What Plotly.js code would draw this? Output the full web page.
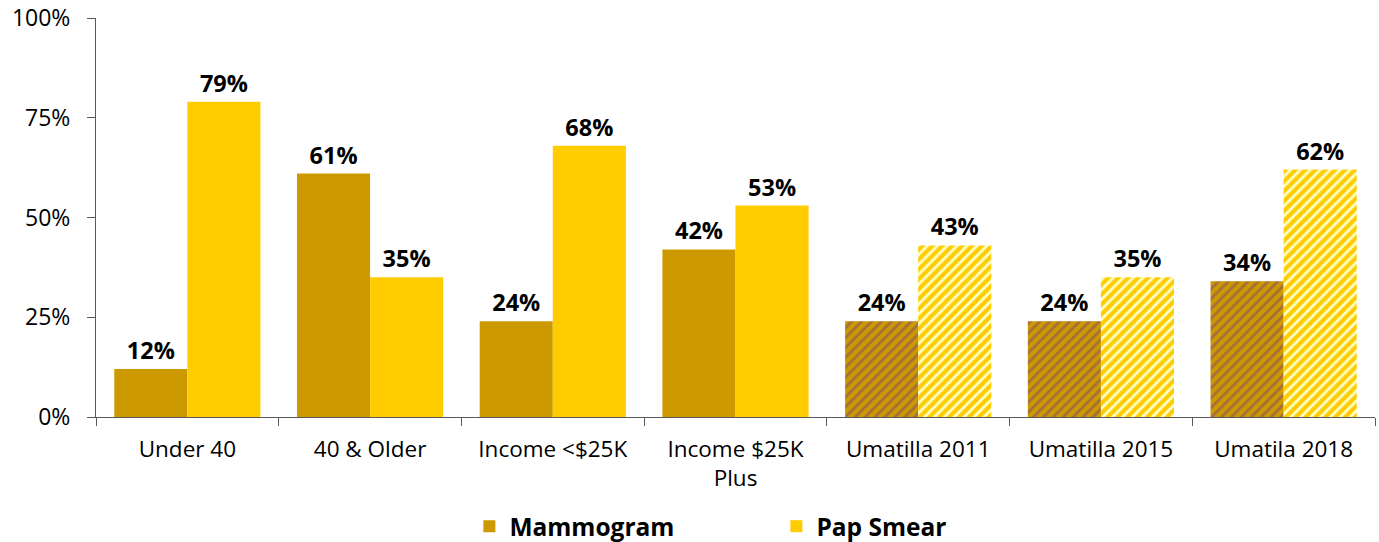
<!DOCTYPE html>
<html>
<head>
<meta charset="utf-8">
<script src="https://cdn.plot.ly/plotly-3.0.1.min.js"></script>
<style>html,body{margin:0;padding:0;background:#fff;}#chart{width:1379px;height:542px;}</style>
</head>
<body>
<div id="chart"></div>
<script>
const categories = ["Under 40", "40 & Older", "Income <$25K", "Income $25K<br>Plus", "Umatilla 2011", "Umatilla 2015", "Umatila 2018"];
const mammogram = [0.12, 0.61, 0.24, 0.42, 0.24, 0.24, 0.34];
const papSmear = [0.79, 0.35, 0.68, 0.53, 0.43, 0.35, 0.62];
const hatched = [false, false, false, false, true, true, true];

const FONT = "Open Sans, Noto Sans, DejaVu Sans, sans-serif";

function makeTrace(name, values, color, stripe) {
  return {
    type: "bar",
    name: name,
    x: categories,
    y: values,
    text: values.map(v => "<b>" + Math.round(v * 100) + "%</b>"),
    textposition: "outside",
    textfont: {family: FONT, size: 23.5, color: "#000"},
    cliponaxis: false,
    marker: {
      color: color,
      line: {width: 0},
      pattern: {
        shape: hatched.map(h => h ? "/" : ""),
        bgcolor: color,
        fgcolor: stripe,
        fgopacity: 1,
        size: 7,
        solidity: 0.4,
        fillmode: "overlay"
      }
    },
    hoverinfo: "none"
  };
}

const data = [
  makeTrace("<b>Mammogram</b>", mammogram, "#CC9900", "#A66E3A"),
  makeTrace("<b>Pap Smear</b>", papSmear, "#FFCC00", "#FFFFC8")
];

const layout = {
  width: 1379,
  height: 542,
  margin: {l: 96, r: 4, t: 18, b: 125, autoexpand: false},
  paper_bgcolor: "#fff",
  plot_bgcolor: "#fff",
  barmode: "group",
  bargap: 0.2,
  bargroupgap: 0,
  font: {family: FONT, size: 21, color: "#000"},
  showlegend: true,
  legend: {
    orientation: "h",
    x: 0.563,
    xref: "container",
    xanchor: "center",
    y: 0.029,
    yref: "container",
    yanchor: "middle",
    font: {family: FONT, size: 24.5, color: "#000"},
    entrywidth: 262,
    entrywidthmode: "pixels",
    itemwidth: 30,
    traceorder: "normal"
  },
  xaxis: {
    type: "category",
    showline: true,
    linecolor: "#595959",
    linewidth: 1,
    ticks: "outside",
    tickson: "boundaries",
    ticklen: 8,
    tickcolor: "#595959",
    tickfont: {family: FONT, size: 22.5, color: "#000"},
    ticklabelstandoff: 12,
    showgrid: false,
    zeroline: false,
    automargin: false
  },
  yaxis: {
    range: [0, 1],
    dtick: 0.25,
    tick0: 0,
    tickformat: ".0%",
    showline: true,
    linecolor: "#595959",
    linewidth: 1,
    ticks: "outside",
    ticklen: 8,
    tickcolor: "#595959",
    tickfont: {family: FONT, size: 23, color: "#000"},
    ticklabelstandoff: 12,
    showgrid: false,
    zeroline: false,
    automargin: false
  }
};

Plotly.newPlot("chart", data, layout, {staticPlot: true, displayModeBar: false});
</script>
</body>
</html>
